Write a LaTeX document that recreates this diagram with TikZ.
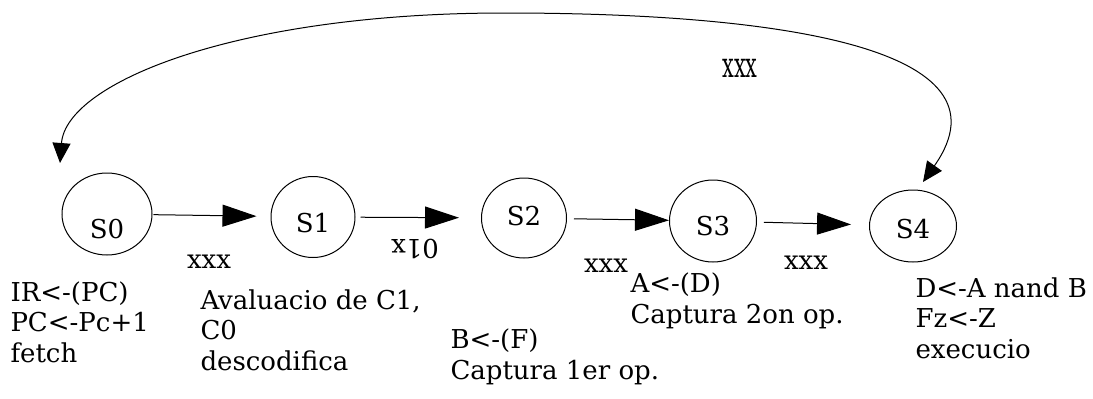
\documentclass[tikz,border=0pt]{standalone}
\usepackage{fontspec}
\setmainfont{DejaVu Serif}
\usetikzlibrary{shapes}
\usetikzlibrary{arrows.meta}
\usetikzlibrary{calc}

\newcommand{\lowtxt}[2]{\raisebox{-#1pt}{#2}}

\begin{document}
\begin{tikzpicture}[x=1pt,y=-1pt,line width=1pt,
  font=\fontsize{26}{30.5}\selectfont,
  state/.style={draw,ellipse,inner sep=0pt,text height=0pt,text depth=0pt,
    minimum width=86pt,minimum height=80pt},
  note/.style={anchor=base west,align=left,inner sep=0pt},
  cond/.style={inner sep=0pt},
  trans/.style={-{Triangle[length=34pt,width=22pt]}},
  back/.style={{Triangle[length=20pt,width=18pt]}-{Triangle[length=20pt,width=18pt]}}]
\useasboundingbox (0,0) rectangle (1093,399);

% states
\node[state,minimum width=90pt,minimum height=82pt] (S0) at (107,214) {\lowtxt{24}{S0}};
\node[state,minimum width=84pt,minimum height=81pt] (S1) at (313,217) {\lowtxt{15}{S1}};
\node[state,minimum width=85pt] (S2) at (524,218) {\lowtxt{7}{S2}};
\node[state,minimum width=87pt,minimum height=82pt] (S3) at (713,221) {\lowtxt{14}{S3}};
\node[state,minimum width=87pt,minimum height=72pt] (S4) at (913,226) {\lowtxt{12}{S4}};

% transitions
\draw[trans,shorten <=1pt,shorten >=14pt] (S0) -- (S1);
\draw[trans,shorten <=5pt,shorten >=22pt] (S1) -- (S2);
\draw[trans,shorten <=7pt] (S2) -- (S3);
\draw[trans,shorten <=7pt,shorten >=18pt] (S3) -- (S4);

\coordinate (looptop) at (505,13);
\draw[back] ($(S0)+(-47,-51)$) .. controls +(6,-80) and +(-270,0) .. (looptop)
  .. controls +(270,0) and +(95,-135) .. ($(S4)+(10,-44)$);

% conditions
\node[cond] (c01) at (209,262) {xxx};
\node[cond,rotate=180] (c12) at (415,249) {01x};
\node[cond] (c23) at (606,266) {xxx};
\node[cond] (c34) at (806,263) {xxx};
\node[cond,xscale=0.8,yscale=1.35] (c40) at (740,68) {xxx};

% actions
\node[note] (a0) at (10,362) {IR<-(PC)\\PC<-Pc+1\\fetch};
\node[note] (a1) at (200,370) {Avaluacio de C1,\\C0\\descodifica};
\node[note] (a2) at (450,379) {B<-(F)\\Captura 1er op.};
\node[note] (a3) at (630,323) {A<-(D)\\Captura 2on op.};
\node[note] (a4) at (915,358) {D<-A nand B\\Fz<-Z\\execucio};
\end{tikzpicture}
\end{document}
